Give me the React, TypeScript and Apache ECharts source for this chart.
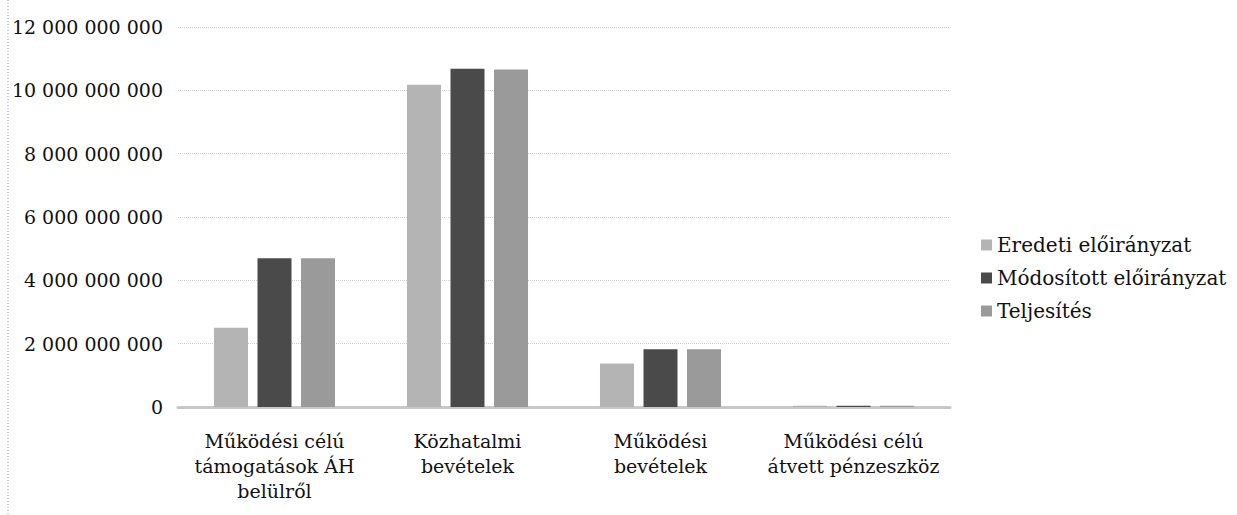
import React, { useEffect, useRef } from "react";
import * as echarts from "echarts";

const categories = [
  "Működési célú\ntámogatások ÁH\nbelülről",
  "Közhatalmi\nbevételek",
  "Működési\nbevételek",
  "Működési célú\nátvett pénzeszköz",
];
const seriesNames = ["Eredeti előirányzat", "Módosított előirányzat", "Teljesítés"];
const eredeti = [2500000000, 10180000000, 1370000000, 40000000];
const modositott = [4700000000, 10680000000, 1820000000, 40000000];
const teljesites = [4700000000, 10660000000, 1820000000, 40000000];
const colors = ["#b4b4b4", "#4a4a4a", "#9a9a9a"];

const fmt = (v: number) => String(Math.round(v)).replace(/\B(?=(\d{3})+(?!\d))/g, " ");

export default function App() {
  const ref = useRef<HTMLDivElement>(null);
  useEffect(() => {
    const chart = echarts.init(ref.current!, undefined, { renderer: "svg" });
    const font = "DejaVu Serif";
    chart.setOption({
      animation: false,
      textStyle: { fontFamily: font },
      grid: { left: 178, right: 287, top: 27, bottom: 108 },
      legend: {
        orient: "vertical",
        left: 976,
        top: 230,
        itemWidth: 11,
        itemHeight: 11,
        itemGap: 13,
        icon: "rect",
        textStyle: { fontFamily: font, fontSize: 20, color: "#111" },
        data: seriesNames,
      },
      xAxis: {
        type: "category",
        data: categories,
        axisLine: { show: true, lineStyle: { color: "#c8c8c8", width: 3 } },
        axisTick: { show: false },
        axisLabel: {
          fontFamily: font,
          fontSize: 19,
          color: "#111",
          lineHeight: 25,
          margin: 21,
          interval: 0,
        },
      },
      yAxis: {
        type: "value",
        min: 0,
        max: 12000000000,
        interval: 2000000000,
        axisLine: { show: false },
        axisTick: { show: false },
        axisLabel: {
          fontFamily: font,
          fontSize: 19,
          color: "#111",
          margin: 15,
          formatter: (v: number) => fmt(v),
        },
        splitLine: { lineStyle: { color: "#cfcfcf", type: "dotted", width: 1 } },
      },
      graphic: [
        {
          type: "line",
          shape: { x1: 8, y1: 0, x2: 8, y2: 515 },
          style: { stroke: "#999", lineWidth: 1, lineDash: [1, 2] },
        },
      ],
      series: [eredeti, modositott, teljesites].map((d, i) => ({
        name: seriesNames[i],
        type: "bar",
        data: d,
        barWidth: 34,
        barGap: "28%",
        itemStyle: { color: colors[i] },
      })),
    });
    return () => chart.dispose();
  }, []);
  return <div ref={ref} style={{ width: 1237, height: 515, position: "absolute", left: 0, top: 0 }} />;
}
